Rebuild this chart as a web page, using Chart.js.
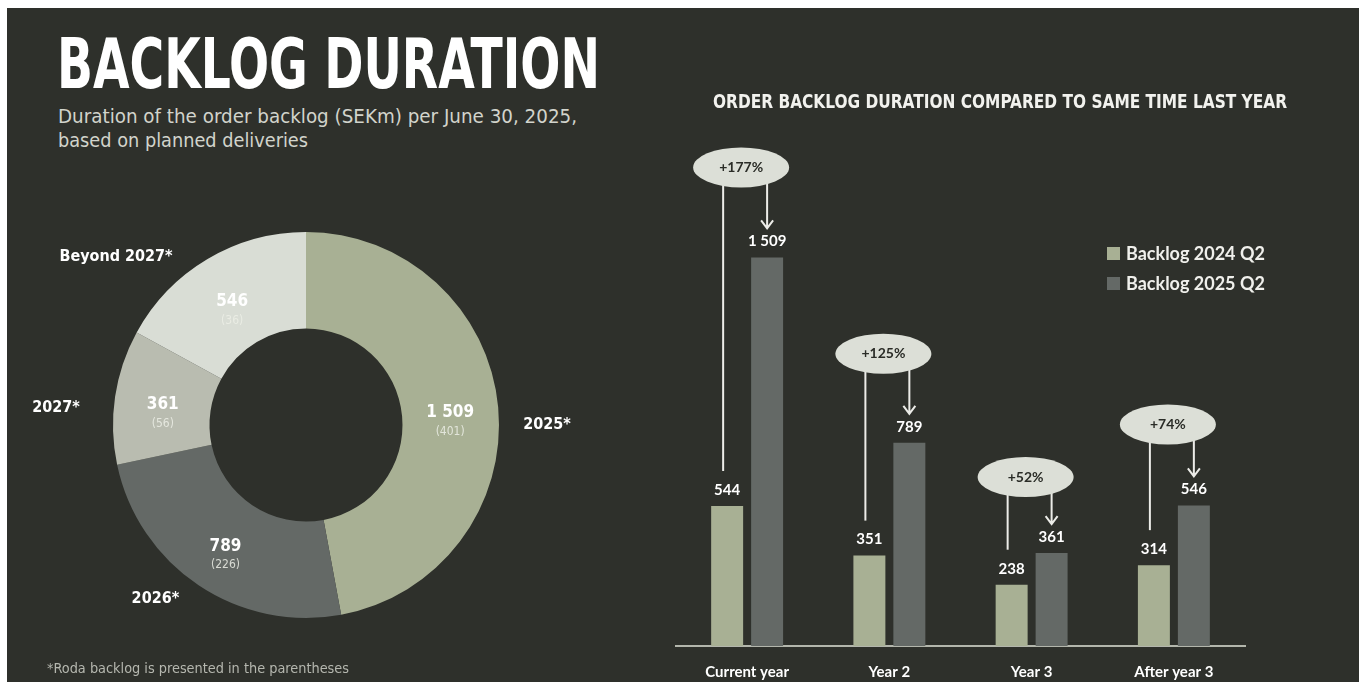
<!DOCTYPE html>
<html>
<head>
<meta charset="utf-8">
<script src="https://cdn.jsdelivr.net/npm/chart.js@4.4.1/dist/chart.umd.min.js"></script>
<style>
html,body{margin:0;padding:0;background:#ffffff;width:1365px;height:682px;overflow:hidden;position:relative}
#panel{position:absolute;left:7px;top:8px;width:1352px;height:674px;background:#2e302b}
.t{position:absolute;white-space:nowrap;transform-origin:0 0;line-height:1;z-index:5}
#title{left:57px;top:29px;font-weight:bold;font-size:70px;font-family:'Liberation Sans Narrow','DejaVu Sans Condensed',sans-serif;color:#ffffff}
#sub1{left:58px;top:106px;font-size:20px;font-family:'Liberation Sans Narrow','DejaVu Sans Condensed',sans-serif;color:#d2d4cc}
#sub2{left:58px;top:130px;font-size:20px;font-family:'Liberation Sans Narrow','DejaVu Sans Condensed',sans-serif;color:#d2d4cc}
#rtitle{left:713px;top:91px;font-weight:bold;font-size:20px;font-family:'Liberation Sans Narrow','DejaVu Sans Condensed',sans-serif;color:#f2f2ee}
#foot{left:47px;top:661px;font-size:14px;font-family:'Liberation Sans Narrow','DejaVu Sans Condensed',sans-serif;color:#b5b7af}
#donutBox{position:absolute;left:7px;top:180px;width:660px;height:500px;z-index:2}
#barBox{position:absolute;left:660px;top:120px;width:699px;height:562px;z-index:2}
</style>
</head>
<body>
<div id="panel"></div>
<div class="t" id="title" data-w="543">BACKLOG DURATION</div>
<div class="t" id="sub1" data-w="519">Duration of the order backlog (SEKm) per June 30, 2025,</div>
<div class="t" id="sub2" data-w="250">based on planned deliveries</div>
<div class="t" id="rtitle" data-w="574">ORDER BACKLOG DURATION COMPARED TO SAME TIME LAST YEAR</div>
<div class="t" id="foot" data-w="302">*Roda backlog is presented in the parentheses</div>
<div id="donutBox"><canvas id="donut"></canvas></div>
<div id="barBox"><canvas id="bars"></canvas></div>
<script>
// ---- data ----
const donutLabels = ['2025*', '2026*', '2027*', 'Beyond 2027*'];
const donutValues = [1509, 789, 361, 546];
const rodaValues = [401, 226, 56, 36];

const categories = ['Current year', 'Year 2', 'Year 3', 'After year 3'];
const backlog2024 = [544, 351, 238, 314];
const backlog2025 = [1509, 789, 361, 546];
const seriesNames = ['Backlog 2024 Q2', 'Backlog 2025 Q2'];
const growthLabels = ['+177%', '+125%', '+52%', '+74%'];

// ---- styling / layout ----
const donutColors = ['#a8b094', '#646966', '#b9bcb0', '#d9ddd5'];
const barColors = ['#a8b094', '#646966'];
const outerLabelPos = [[90, 241], [220.9, 230], [273.9, 250.6], [311.5, 253.6]]; // deg from top, distance
const ellipseRise = [90, 89, 76, 81];

const fmt = n => String(n).replace(/\B(?=(\d{3})+(?!\d))/g, ' ');

// fit header texts to their widths
document.querySelectorAll('.t').forEach(el => {
  const w = el.getBoundingClientRect().width;
  el.style.transform = 'scaleX(' + (parseFloat(el.dataset.w) / w) + ')';
});

const donutLabelPlugin = {
  id: 'donutLabels',
  afterDatasetsDraw(chart) {
    const ctx = chart.ctx;
    const meta = chart.getDatasetMeta(0);
    ctx.save();
    ctx.textAlign = 'center';
    ctx.textBaseline = 'middle';
    meta.data.forEach((arc, i) => {
      const mid = (arc.startAngle + arc.endAngle) / 2;
      const r = (arc.innerRadius + arc.outerRadius) / 2;
      const cx = arc.x + Math.cos(mid) * r;
      const cy = arc.y + Math.sin(mid) * r;
      ctx.fillStyle = '#ffffff';
      ctx.font = 'bold 17px "DejaVu Sans Condensed", "DejaVu Sans", sans-serif';
      ctx.fillText(fmt(donutValues[i]), cx, cy + 1);
      ctx.fillStyle = 'rgba(236,238,230,0.85)';
      ctx.font = '12px "DejaVu Sans Condensed", "DejaVu Sans", sans-serif';
      ctx.fillText('(' + fmt(rodaValues[i]) + ')', cx, cy + 20);
      const a = outerLabelPos[i][0] * Math.PI / 180, d = outerLabelPos[i][1];
      ctx.fillStyle = '#ffffff';
      ctx.font = 'bold 16px "DejaVu Sans Condensed", "DejaVu Sans", sans-serif';
      ctx.fillText(donutLabels[i], arc.x + Math.sin(a) * d, arc.y - Math.cos(a) * d);
    });
    ctx.restore();
  }
};

new Chart(document.getElementById('donut'), {
  type: 'doughnut',
  data: {
    labels: donutLabels,
    datasets: [{ data: donutValues, backgroundColor: donutColors, borderWidth: 0, hoverOffset: 0 }]
  },
  options: {
    responsive: true, maintainAspectRatio: false, animation: false,
    cutout: '50%',
    layout: { padding: { left: 106, right: 168, top: 52, bottom: 62 } },
    plugins: { legend: { display: false }, tooltip: { enabled: false } }
  },
  plugins: [donutLabelPlugin]
});

const barPlugin = {
  id: 'barAnnotations',
  afterDatasetsDraw(chart) {
    const ctx = chart.ctx;
    const m0 = chart.getDatasetMeta(0), m1 = chart.getDatasetMeta(1);
    const ca = chart.chartArea;
    ctx.save();
    ctx.textAlign = 'center';
    ctx.textBaseline = 'middle';
    // value labels
    [m0, m1].forEach((meta, di) => {
      const vals = di === 0 ? backlog2024 : backlog2025;
      meta.data.forEach((bar, i) => {
        ctx.fillStyle = '#ffffff';
        ctx.font = 'bold 15px Lato, sans-serif';
        ctx.fillText(fmt(vals[i]), bar.x, bar.y - 16);
      });
    });
    // growth annotations
    m1.data.forEach((b2, i) => {
      const b1 = m0.data[i];
      const ex = (b1.x + b2.x) / 2 - 6;
      const ey = b2.y - ellipseRise[i];
      const rx = 48, ry = 20;
      ctx.strokeStyle = '#ececE8';
      ctx.lineWidth = 2;
      const lx = b1.x - 4;
      ctx.beginPath();
      ctx.moveTo(lx, ey);
      ctx.lineTo(lx, b1.y - 35);
      ctx.stroke();
      const ax = b2.x, tip = b2.y - 29;
      ctx.beginPath();
      ctx.moveTo(ax, ey);
      ctx.lineTo(ax, tip);
      ctx.moveTo(ax - 6, tip - 8);
      ctx.lineTo(ax, tip);
      ctx.lineTo(ax + 6, tip - 8);
      ctx.stroke();
      ctx.fillStyle = '#dcdfd7';
      ctx.beginPath();
      ctx.ellipse(ex, ey, rx, ry, 0, 0, Math.PI * 2);
      ctx.fill();
      ctx.fillStyle = '#2a2c27';
      ctx.font = 'bold 14px Lato, sans-serif';
      ctx.fillText(growthLabels[i], ex, ey);
    });
    // legend
    const lx0 = ca.right - 138, ly0 = ca.top + 116;
    seriesNames.forEach((name, i) => {
      const y = ly0 + i * 30;
      ctx.fillStyle = barColors[i];
      ctx.fillRect(lx0, y, 13, 13);
      ctx.fillStyle = '#f0f0ec';
      ctx.font = 'bold 18px Lato, sans-serif';
      ctx.textAlign = 'left';
      ctx.fillText(name, lx0 + 19, y + 7);
    });
    ctx.restore();
  }
};

new Chart(document.getElementById('bars'), {
  type: 'bar',
  data: {
    labels: categories,
    datasets: [
      { label: seriesNames[0], data: backlog2024, backgroundColor: barColors[0], categoryPercentage: 0.562, barPercentage: 0.8 },
      { label: seriesNames[1], data: backlog2025, backgroundColor: barColors[1], categoryPercentage: 0.562, barPercentage: 0.8 }
    ]
  },
  options: {
    responsive: true, maintainAspectRatio: false, animation: false,
    layout: { padding: { left: 16, right: 114, top: 11, bottom: 0 } },
    plugins: { legend: { display: false }, tooltip: { enabled: false } },
    scales: {
      x: {
        grid: { display: false, drawTicks: false },
        border: { display: true, color: '#b3b6ac', width: 2 },
        ticks: { color: '#ffffff', font: { family: 'Lato', weight: 'bold', size: 15 }, padding: 17 },
        afterFit(scale) { scale.height = 36; }
      },
      y: { display: false, min: 0, max: 2000 }
    }
  },
  plugins: [barPlugin]
});
</script>
</body>
</html>
